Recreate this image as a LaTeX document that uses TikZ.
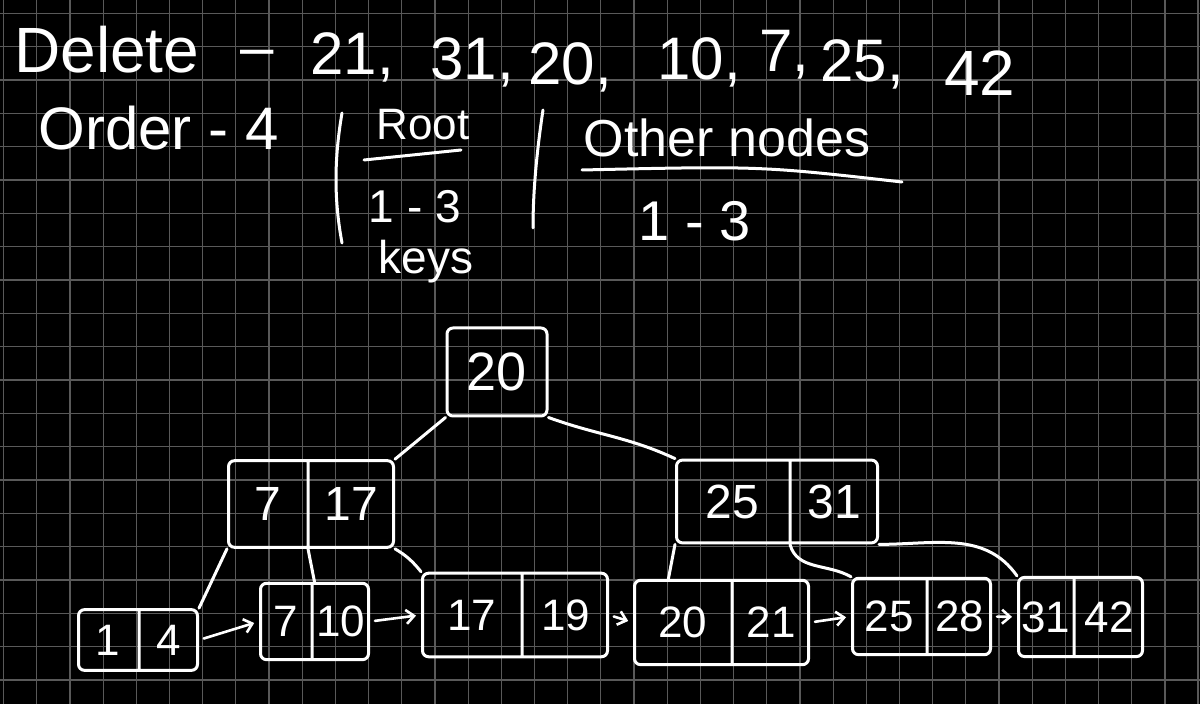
\documentclass[tikz,border=0pt]{standalone}
\usepackage{fontspec}
\setmainfont{Liberation Sans}
\usetikzlibrary{
    calc,
    arrows.meta,
    shapes.multipart
}

\newcommand\twokeys[4]{\makebox[#1pt]{#2}\nodepart{two}\makebox[#3pt]{#4}}

\begin{document}
\begin{tikzpicture}[x=0.5pt, y=-0.5pt,
    ink/.style={draw=white, line width=1.5pt, line cap=round, line join=round},
    gridln/.style={draw=white!35!black, line width=0.6pt},
    hand/.style={text=white, inner sep=0pt, font=\fontsize{#1}{#1}\selectfont},
    onebox/.style={ink, rounded corners=3pt, text=white, inner sep=0pt},
    keybox/.style={ink, rounded corners=3pt, text=white, inner xsep=0pt,
        rectangle split, rectangle split horizontal, rectangle split parts=2},
    leaf/.style={keybox, font=\fontsize{22}{22}\selectfont},
    inner/.style={keybox, font=\fontsize{24}{24}\selectfont},
    link/.style={ink, line width=1.3pt, -{Straight Barb[length=4pt,width=7pt]},
        shorten <=2.5pt, shorten >=2.5pt}
]

\fill[black] (0,0) rectangle (1200,704);
\useasboundingbox (0,0) rectangle (1200,704);

\foreach \i in {0,...,36}
    \draw[gridln] ({3.6+33.18*\i},0) -- ++(0,704);
\foreach \j in {0,...,20}
    \draw[gridln] (0,{13.4+33.33*\j}) -- ++(1200,0);

\node[hand=32, anchor=west] (del) at (14,50) {Delete};
\node[hand=30, anchor=base] (dash) at (257,68) {--};
\node[hand=30, anchor=base west] (d21) at (310,75) {21,};
\node[hand=30, anchor=base west] (d31) at (430,80) {31,};
\node[hand=30, anchor=base west] (d20) at (528,85) {20,};
\node[hand=30, anchor=base west] (d10) at (657,80) {10,};
\node[hand=30, anchor=base west] (d7) at (759,72) {7,};
\node[hand=30, anchor=base west] (d25) at (820,82) {25,};
\node[hand=32, anchor=base west] (d42) at (944,96) {42};

\node[hand=30, anchor=base west] (ord) at (38,150) {Order - 4};

\draw[ink] (342,113) .. controls (334,160) and (334,200) .. (342,243);
\node[hand=22] (rt) at (423,125) {Root};
\draw[ink] (364,160) -- (461,150);
\node[hand=23] (rt13) at (415,207) {1 - 3};
\node[hand=23] (rtkeys) at (426,262) {keys};

\draw[ink] (543,110) .. controls (537,150) and (533,190) .. (533,228);
\node[hand=26] (oth) at (727,138) {Other nodes};
\draw[ink] (582,170) .. controls (760,166) .. (902,182);
\node[hand=28] (oth13) at (695,221) {1 - 3};

\node[onebox, minimum width=50pt, minimum height=44pt,
    font=\fontsize{27}{27}\selectfont] (R) at (497,372) {20};

\node[inner, inner ysep=13.4pt] (I1) at (311,504) {\twokeys{39}{7}{42}{17}};
\node[inner, inner ysep=12.2pt] (I2) at (777,501.5) {\twokeys{56}{25}{43}{31}};

\node[leaf, inner ysep=7.6pt] (L1) at (138,640) {\twokeys{29.5}{1}{28.5}{4}};
\node[leaf, inner ysep=11.3pt] (L2) at (314.5,621.5) {\twokeys{25}{7}{27.5}{10}};
\node[leaf, inner ysep=13.1pt] (L3) at (515,615) {\twokeys{49}{17}{42}{19}};
\node[leaf, inner ysep=13.3pt] (L4) at (721.5,622.5) {\twokeys{48}{20}{37.5}{21}};
\node[leaf, inner ysep=11.3pt] (L5) at (921.5,616.5) {\twokeys{36.5}{25}{31}{28}};
\node[leaf, inner ysep=12pt] (L6) at (1080.5,617) {\twokeys{27}{31}{33.5}{42}};

\draw[ink] (R.south west) -- (I1.north east);
\draw[ink] (R.south east) to[out=-20,in=155] (I2.north west);

\draw[ink] (I1.south west) -- (L1.north east);
\draw[ink] (I1.one split south) -- (L2.north);
\draw[ink] (I1.south east) to[bend left=10] (L3.north west);

\draw[ink] (I2.south west) -- ($(L4.north west)!0.2!(L4.north east)$);
\draw[ink] (I2.one split south) to[out=-75,in=150] (L5.north west);
\draw[ink] (I2.south east) to[out=0,in=125] (L6.north west);

\foreach \a/\b in {L1/L2, L2/L3, L3/L4, L4/L5, L5/L6}
    \draw[link] (\a.east) -- (\b.west);

\end{tikzpicture}
\end{document}
